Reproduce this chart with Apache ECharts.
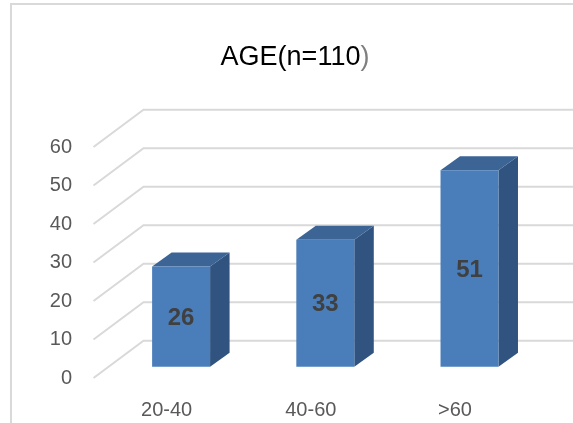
<!DOCTYPE html>
<html>
<head>
<meta charset="utf-8">
<script src="https://cdn.jsdelivr.net/npm/echarts@6/dist/echarts.min.js"></script>
<style>
html,body{margin:0;padding:0;background:#fff;}
#chart{width:573px;height:423px;}
</style>
</head>
<body>
<div id="chart"></div>
<script>
const categories = ['20-40', '40-60', '>60'];
const values = [26, 33, 51];
const yTicks = [0, 10, 20, 30, 40, 50, 60];
const titleMain = 'AGE(n=110';
const titleEnd = ')';

// depth geometry (pixels)
const FRONT = { dx: -15.5, dy: 11.3 };
const BACK = { dx: 34.5, dy: -26 };
const BAR_DEPTH = { dx: 19.5, dy: -14 };

const chart = echarts.init(document.getElementById('chart'), null, { renderer: 'canvas' });

const option = {
  animation: false,
  backgroundColor: '#ffffff',
  title: {
    text: '{a|' + titleMain + '}{b|' + titleEnd + '}',
    left: 290,
    top: 39,
    textAlign: 'center',
    textStyle: {
      fontWeight: 'normal',
      rich: {
        a: { fontFamily: 'Liberation Sans', fontSize: 27, fontWeight: 'normal', color: '#000000' },
        b: { fontFamily: 'Liberation Sans', fontSize: 27, fontWeight: 'normal', color: '#7f7f7f' }
      }
    }
  },
  graphic: [{
    type: 'rect',
    shape: { x: 11, y: 4, width: 700, height: 600 },
    style: { fill: 'none', stroke: '#d9d9d9', lineWidth: 2 },
    silent: true
  }],
  grid: { left: 109, right: 31.4, top: 135.7, bottom: 56.3 },
  xAxis: {
    type: 'category',
    data: categories,
    axisLine: { show: false },
    axisTick: { show: false },
    axisLabel: {
      margin: 33.5,
      fontFamily: 'Liberation Sans',
      fontSize: 20,
      color: '#595959',
      padding: [0, 29, 0, 0]
    }
  },
  yAxis: {
    type: 'value',
    min: 0,
    max: 60,
    interval: 10,
    axisLine: { show: false },
    axisTick: { show: false },
    splitLine: { show: false },
    axisLabel: {
      margin: 37,
      fontFamily: 'Liberation Sans',
      fontSize: 20,
      color: '#595959',
      verticalAlign: 'top',
      lineHeight: 22.6
    }
  },
  series: [
    {
      type: 'custom',
      z: 1,
      silent: true,
      data: yTicks.map(v => [v]),
      renderItem: function (params, api) {
        const cs = params.coordSys;
        const y = api.coord([0, api.value(0)])[1];
        const x0 = cs.x;
        return {
          type: 'polyline',
          shape: {
            points: [
              [x0 + FRONT.dx, y + FRONT.dy],
              [x0 + BACK.dx, y + BACK.dy],
              [cs.x + cs.width + BACK.dx + 40, y + BACK.dy]
            ]
          },
          style: { stroke: '#d9d9d9', lineWidth: 2, fill: 'none' }
        };
      }
    },
    {
      type: 'custom',
      z: 2,
      data: values.map((v, i) => [i, v]),
      renderItem: function (params, api) {
        const idx = api.value(0);
        const val = api.value(1);
        const top = api.coord([idx, val]);
        const bot = api.coord([idx, 0]);
        const bw = api.size([1, 0])[0] * 0.402;
        const xl = top[0] - bw / 2;
        const xr = top[0] + bw / 2;
        const yt = top[1];
        const yb = bot[1];
        const dx = BAR_DEPTH.dx, dy = BAR_DEPTH.dy;
        return {
          type: 'group',
          children: [
            {
              type: 'polygon',
              shape: { points: [[xr, yt], [xr + dx, yt + dy], [xr + dx, yb + dy], [xr, yb]] },
              style: { fill: '#30547f' }
            },
            {
              type: 'polygon',
              shape: { points: [[xl, yt], [xl + dx, yt + dy], [xr + dx, yt + dy], [xr, yt]] },
              style: { fill: '#3c6596' }
            },
            {
              type: 'rect',
              shape: { x: xl, y: yt, width: bw, height: yb - yt },
              style: { fill: '#4a7ebb' }
            },
            {
              type: 'text',
              style: {
                text: String(val),
                x: (xl + xr) / 2,
                y: (yt + yb) / 2 + 1.5,
                align: 'center',
                verticalAlign: 'middle',
                fontFamily: 'Liberation Sans',
                fontWeight: 'bold',
                fontSize: 24,
                fill: '#404040'
              }
            }
          ]
        };
      }
    }
  ]
};

chart.setOption(option);
</script>
</body>
</html>
